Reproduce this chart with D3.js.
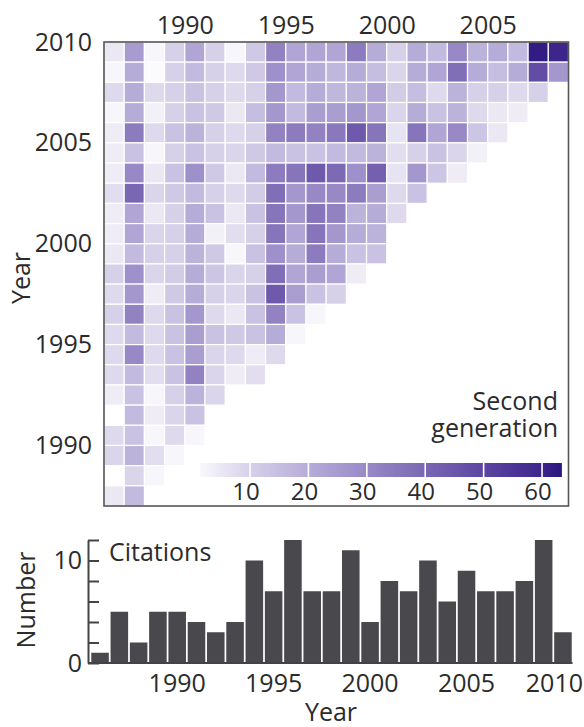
<!DOCTYPE html>
<html>
<head>
<meta charset="utf-8">
<script src="https://cdn.jsdelivr.net/npm/d3@7"></script>
<style>
  body { margin: 0; background: #fff; }
  text { font-family: "Open Sans", sans-serif; fill: #2b2b2b; }
</style>
</head>
<body>
<svg width="584" height="727"></svg>
<script>
// columns: cited year, rows: citing year (top to bottom)
var citedYears = [1986, 1987, 1988, 1989, 1990, 1991, 1992, 1993, 1994, 1995, 1996, 1997,
                  1998, 1999, 2000, 2001, 2002, 2003, 2004, 2005, 2006, 2007, 2008];
var citingYears = [2010, 2009, 2008, 2007, 2006, 2005, 2004, 2003, 2002, 2001, 2000, 1999,
                   1998, 1997, 1996, 1995, 1994, 1993, 1992, 1991, 1990, 1989, 1988];

// second generation citations, one row per citing year (0 = empty cell)
var secondGen = [
  [5, 25, 2, 10, 22, 10, 2, 12, 32, 22, 22, 22, 34, 20, 10, 20, 16, 30, 18, 20, 16, 62, 60],
  [2, 20, 1, 10, 16, 10, 8, 12, 28, 22, 20, 17, 20, 15, 9, 20, 22, 38, 20, 15, 20, 48, 26],
  [8, 20, 8, 10, 14, 10, 8, 10, 26, 16, 20, 17, 18, 22, 11, 15, 8, 18, 10, 10, 8, 10],
  [2, 20, 3, 10, 14, 12, 5, 15, 26, 16, 24, 24, 26, 22, 9, 20, 14, 18, 8, 5, 4],
  [4, 34, 8, 14, 18, 10, 8, 10, 32, 34, 32, 35, 44, 36, 6, 36, 22, 30, 13, 5],
  [4, 14, 2, 10, 14, 10, 9, 12, 16, 14, 14, 16, 16, 18, 7, 10, 14, 9, 3],
  [4, 30, 5, 14, 28, 12, 5, 16, 34, 36, 44, 39, 28, 42, 6, 26, 13, 4],
  [7, 40, 9, 12, 16, 10, 8, 11, 38, 26, 30, 30, 34, 24, 8, 14],
  [4, 22, 5, 10, 20, 14, 5, 14, 36, 26, 36, 32, 18, 20, 8],
  [4, 22, 9, 10, 20, 3, 7, 10, 36, 22, 36, 26, 20, 18],
  [5, 16, 10, 10, 18, 12, 2, 14, 28, 20, 34, 20, 14, 14],
  [10, 28, 9, 11, 20, 13, 9, 10, 38, 22, 24, 22, 4],
  [8, 26, 4, 12, 20, 10, 9, 14, 44, 24, 14, 10],
  [10, 32, 8, 14, 26, 8, 5, 14, 32, 14, 2],
  [8, 16, 8, 14, 24, 14, 12, 14, 20, 2],
  [8, 30, 8, 14, 24, 9, 8, 4, 8],
  [8, 16, 7, 14, 32, 9, 4, 7],
  [4, 14, 2, 10, 18, 9],
  [0, 16, 4, 9, 14],
  [8, 14, 2, 8, 2],
  [9, 18, 7, 2],
  [0, 9, 2],
  [5, 16]
];

var barYears = [1986, 1987, 1988, 1989, 1990, 1991, 1992, 1993, 1994, 1995, 1996, 1997, 1998,
                1999, 2000, 2001, 2002, 2003, 2004, 2005, 2006, 2007, 2008, 2009, 2010];
var citations = [1, 5, 2, 5, 5, 4, 3, 4, 10, 7, 12, 7, 7, 11, 4, 8, 7, 10, 6, 9, 7, 7, 8, 12, 3];

var heatTicksX = [1990, 1995, 2000, 2005];
var heatTicksY = [1990, 1995, 2000, 2005, 2010];
var legendTicks = [10, 20, 30, 40, 50, 60];
var countLabels = [0, 10];
var yearLabels = [1990, 1995, 2000, 2005, 2010];

var svg = d3.select("svg");

var color = d3.scaleLinear()
    .domain([0, 10, 20, 30, 40, 50, 60, 64])
    .range(["#ffffff", "#d6d0e9", "#b6acd8", "#9889c6", "#7a67b3", "#5c45a1", "#3d258c", "#27127c"]);

/* ===== HEATMAP ===== */

var x = d3.scaleLinear().domain([1986, 2009]).range([104, 568.5]);
var y = d3.scaleLinear().domain([2010, 1987]).range([42, 506]);

var heat = svg.append("g");

heat.selectAll("g.row")
  .data(secondGen)
  .enter().append("g")
    .attr("class", "row")
  .selectAll("rect")
  .data(function(row, j) {
    return row.map(function(v, i) { return {cited: citedYears[i], citing: citingYears[j], value: v}; })
      .filter(function(d) { return d.value > 0; });
  })
  .enter().append("rect")
    .attr("x", function(d) { return x(d.cited); })
    .attr("y", function(d) { return y(d.citing); })
    .attr("width", function(d) { return x(d.cited + 1) - x(d.cited); })
    .attr("height", function(d) { return y(d.citing - 1) - y(d.citing); })
    .attr("fill", function(d) { return color(d.value); })
    .attr("stroke", "#fff")
    .attr("stroke-width", 1.2);

heat.append("rect")
    .attr("x", x(1986))
    .attr("y", y(2010))
    .attr("width", x(2009) - x(1986))
    .attr("height", y(1987) - y(2010))
    .attr("fill", "none")
    .attr("stroke", "#555")
    .attr("stroke-width", 1.6);

var topAxis = svg.append("g")
    .attr("transform", "translate(0," + y(2010) + ")")
    .call(d3.axisTop(x).tickValues(heatTicksX).tickSize(0).tickPadding(8).tickFormat(d3.format("d")));
topAxis.select(".domain").remove();
topAxis.selectAll("text").attr("font-size", 25).attr("font-family", null).attr("fill", null);

var leftAxis = svg.append("g")
    .attr("transform", "translate(" + x(1986) + ",0)")
    .call(d3.axisLeft(y).tickValues(heatTicksY).tickSize(0).tickPadding(12).tickFormat(d3.format("d")));
leftAxis.select(".domain").remove();
leftAxis.selectAll("text").attr("font-size", 25).attr("font-family", null).attr("fill", null);

svg.append("text")
    .attr("transform", "translate(30,278) rotate(-90)")
    .attr("text-anchor", "middle")
    .attr("font-size", 25)
    .text("Year");

/* ===== LEGEND ===== */

var lx = d3.scaleLinear().domain([0, 64]).range([191.6, 565.4]);
var legend = svg.append("g");

legend.selectAll("rect")
  .data(d3.range(1.4, 63, 0.25))
  .enter().append("rect")
    .attr("x", function(d) { return lx(d); })
    .attr("y", 463)
    .attr("width", lx(0.5) - lx(0))
    .attr("height", 14)
    .attr("fill", function(d) { return color(d); });

legend.selectAll("line")
  .data(legendTicks)
  .enter().append("line")
    .attr("x1", function(d) { return lx(d); })
    .attr("x2", function(d) { return lx(d); })
    .attr("y1", 462)
    .attr("y2", 478)
    .attr("stroke", "#fff")
    .attr("stroke-width", 1.6);

legend.selectAll("text")
  .data(legendTicks)
  .enter().append("text")
    .attr("x", function(d) { return lx(d) - 4; })
    .attr("y", 500)
    .attr("text-anchor", "middle")
    .attr("font-size", 24)
    .text(function(d) { return d; });

legend.append("text")
    .attr("x", 558).attr("y", 410)
    .attr("text-anchor", "end")
    .attr("font-size", 25)
    .text("Second");
legend.append("text")
    .attr("x", 558).attr("y", 437)
    .attr("text-anchor", "end")
    .attr("font-size", 25)
    .text("generation");

/* ===== CITATIONS BARS ===== */

var xb = d3.scaleBand().domain(barYears).range([90.5, 572.5]).paddingInner(0.09).paddingOuter(0.04);
var yb = d3.scaleLinear().domain([0, 12]).range([663, 540]);

svg.append("g")
  .selectAll("rect")
  .data(citations)
  .enter().append("rect")
    .attr("x", function(d, i) { return xb(barYears[i]); })
    .attr("y", function(d) { return yb(d); })
    .attr("width", xb.bandwidth())
    .attr("height", function(d) { return yb(0) - yb(d); })
    .attr("fill", "#49484c");

var tickAxis = svg.append("g")
    .attr("transform", "translate(88,0)")
    .call(d3.axisRight(yb).ticks(6).tickSize(11).tickSizeOuter(0).tickFormat(""));
tickAxis.selectAll("path, line").attr("stroke", "#444").attr("stroke-width", 2);

var countAxis = svg.append("g")
    .attr("transform", "translate(86,0)")
    .call(d3.axisLeft(yb).tickValues(countLabels).tickSize(0).tickPadding(4));
countAxis.select(".domain").remove();
countAxis.selectAll("text").attr("font-size", 25).attr("font-family", null).attr("fill", null);

var bottomAxis = svg.append("g")
    .attr("transform", "translate(0," + yb(0) + ")")
    .call(d3.axisBottom(xb).tickValues(yearLabels).tickSize(0).tickPadding(11));
bottomAxis.select(".domain").attr("d", "M88,0H572.5").attr("stroke", "#444").attr("stroke-width", 2);
bottomAxis.selectAll("text").attr("font-size", 25).attr("font-family", null).attr("fill", null);

// keep the last year label inside the page edge
var lastCx = xb(2010) + xb.bandwidth() / 2;
bottomAxis.selectAll("text")
    .filter(function(d) { return d === 2010; })
    .attr("text-anchor", "end")
    .attr("x", 583 - lastCx);

svg.append("text")
    .attr("x", 109).attr("y", 561)
    .attr("font-size", 25)
    .text("Citations");

svg.append("text")
    .attr("transform", "translate(35,600) rotate(-90)")
    .attr("text-anchor", "middle")
    .attr("font-size", 25)
    .text("Number");

svg.append("text")
    .attr("x", 331).attr("y", 721)
    .attr("text-anchor", "middle")
    .attr("font-size", 25)
    .text("Year");
</script>
</body>
</html>
